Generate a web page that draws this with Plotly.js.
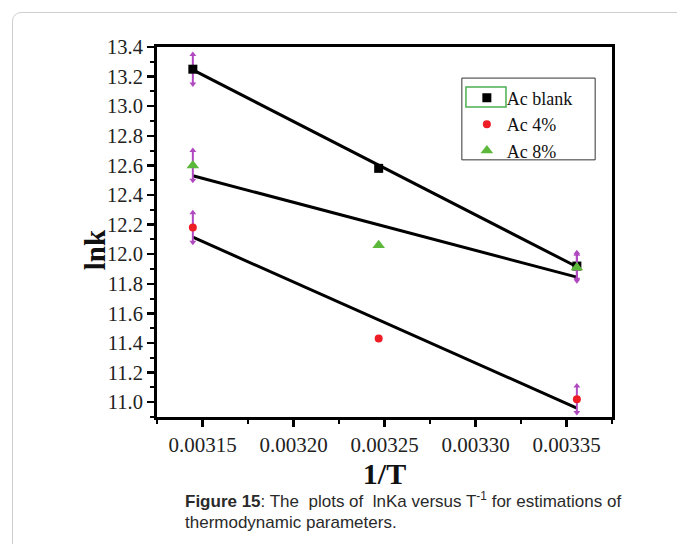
<!DOCTYPE html>
<html>
<head>
<meta charset="utf-8">
<script src="https://cdn.plot.ly/plotly-3.0.1.min.js"></script>
<style>
html,body{margin:0;padding:0;width:677px;height:544px;overflow:hidden;background:#fff;}
#frame{position:absolute;left:12px;top:12px;width:720px;height:640px;border:1.5px solid #cfcfcf;border-radius:9px;box-sizing:border-box;}
#chart{position:absolute;left:0;top:0;width:677px;height:544px;}
</style>
</head>
<body>
<div id="frame"></div>
<div id="chart"></div>
<script>
// 1/T values (K^-1)
var invT = [0.0031447, 0.0032468, 0.0033557];
// lnK values
var lnkBlank = [13.25, 12.58, 11.92];
var lnk4 = [12.18, 11.43, 11.02];
var lnk8 = [12.60, 12.06, 11.91];
// error bar half-length
var errBlank = [0.1, 0, 0.09];
var err4 = [0.1, 0, 0.09];
var err8 = [0.1, 0, 0.09];
// linear fit lines (end values)
var fitX = [0.0031447, 0.0033557];
var fitBlank = [13.245, 11.915];
var fit4 = [12.115, 10.96];
var fit8 = [12.53, 11.845];
var seriesNames = ['Ac blank', 'Ac 4%', 'Ac 8%'];
var xTicks = [0.00315, 0.00320, 0.00325, 0.00330, 0.00335];
var yTicks = [11.0, 11.2, 11.4, 11.6, 11.8, 12.0, 12.2, 12.4, 12.6, 12.8, 13.0, 13.2, 13.4];

var serif = 'Liberation Serif';
var sans = 'Liberation Sans';
var errCol = '#b048c0';

function fitTrace(y){
  return {x: fitX, y: y, mode: 'lines', line: {color: '#000', width: 3}, showlegend: false, hoverinfo: 'skip'};
}
function ptTrace(y, err, name, sym, col, size){
  return {x: invT, y: y, name: name, mode: 'markers',
    marker: {symbol: sym, color: col, size: size},
    error_y: {type: 'data', array: err, visible: true, color: errCol, thickness: 2, width: 0}};
}
function arrowTrace(y, err, up){
  return {x: invT.filter(function(_, i){return err[i] > 0;}),
    y: y.map(function(v, i){return up ? v + err[i] : v - err[i];}).filter(function(_, i){return err[i] > 0;}),
    mode: 'markers', showlegend: false, hoverinfo: 'skip',
    marker: {symbol: up ? 'triangle-up' : 'triangle-down', color: errCol, size: 6}};
}

var data = [
  fitTrace(fitBlank), fitTrace(fit4), fitTrace(fit8),
  arrowTrace(lnkBlank, errBlank, true), arrowTrace(lnkBlank, errBlank, false),
  arrowTrace(lnk4, err4, true), arrowTrace(lnk4, err4, false),
  arrowTrace(lnk8, err8, true), arrowTrace(lnk8, err8, false),
  ptTrace(lnkBlank, errBlank, seriesNames[0], 'square', '#000000', 9),
  ptTrace(lnk4, err4, seriesNames[1], 'circle', '#ee1c25', 8),
  ptTrace(lnk8, err8, seriesNames[2], 'triangle-up', '#5cb83a', 11)
];

var layout = {
  width: 677, height: 544,
  margin: {l: 157, r: 65, t: 47, b: 127},
  paper_bgcolor: 'rgba(0,0,0,0)',
  plot_bgcolor: 'rgba(0,0,0,0)',
  font: {family: serif, color: '#222'},
  showlegend: true,
  legend: {x: 0.681, y: 0.912, xanchor: 'left', yanchor: 'top',
    bgcolor: 'rgba(0,0,0,0)', borderwidth: 0,
    font: {family: serif, size: 18, color: '#111'}, tracegroupgap: 0, itemwidth: 30},
  xaxis: {
    range: [0.003125, 0.003375], tickvals: xTicks, ticktext: xTicks.map(function(v){return v.toFixed(5);}),
    showgrid: false, zeroline: false, showline: true, linecolor: '#000', linewidth: 3, mirror: true,
    ticks: 'outside', ticklen: 7, tickwidth: 2.5, tickcolor: '#000',
    minor: {dtick: 0.000025, ticks: 'outside', ticklen: 4, tickwidth: 2, tickcolor: '#000'},
    tickfont: {family: serif, size: 21, color: '#222'},
    title: {text: '<b>1/T</b>', font: {family: serif, size: 30, color: '#111'}, standoff: 6}
  },
  yaxis: {
    range: [10.9, 13.4], tickvals: yTicks, ticktext: yTicks.map(function(v){return v.toFixed(1);}),
    showgrid: false, zeroline: false, showline: true, linecolor: '#000', linewidth: 3, mirror: true,
    ticks: 'outside', ticklen: 7, tickwidth: 2.5, tickcolor: '#000',
    minor: {dtick: 0.1, ticks: 'outside', ticklen: 4, tickwidth: 2, tickcolor: '#000'},
    tickfont: {family: serif, size: 20.5, color: '#222'}
  },
  shapes: [
    {type: 'rect', xref: 'paper', yref: 'paper', x0: 0.670, x1: 0.963, y0: 0.695, y1: 0.916,
     line: {color: '#333', width: 1}, fillcolor: 'rgba(0,0,0,0)'},
    {type: 'rect', xref: 'paper', yref: 'paper', x0: 0.679, x1: 0.767, y0: 0.838, y1: 0.892,
     line: {color: '#4caf50', width: 1.5}, fillcolor: 'rgba(0,0,0,0)'}
  ],
  annotations: [
    {xref: 'paper', yref: 'paper', x: -0.136, y: 0.451, xanchor: 'center', yanchor: 'middle', showarrow: false,
     textangle: -90, text: '<b>lnk</b>', font: {family: serif, size: 29, color: '#111'}},
    {xref: 'paper', yref: 'paper', x: 0.057, y: -0.19, xanchor: 'left', yanchor: 'top', showarrow: false, align: 'left',
     text: '<b>Figure 15</b>: The  plots of  lnKa versus T<sup>-1</sup> for estimations of',
     font: {family: sans, size: 17, color: '#2a2a2a'}},
    {xref: 'paper', yref: 'paper', x: 0.057, y: -0.255, xanchor: 'left', yanchor: 'top', showarrow: false, align: 'left',
     text: 'thermodynamic parameters.',
     font: {family: sans, size: 17, color: '#2a2a2a'}}
  ]
};

Plotly.newPlot('chart', data, layout, {displayModeBar: false, staticPlot: true});
</script>
</body>
</html>
